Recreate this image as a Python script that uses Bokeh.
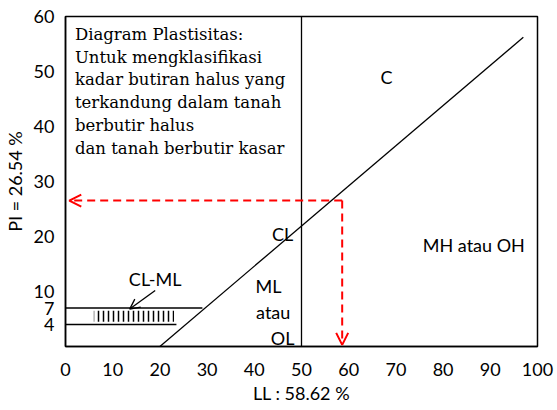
from bokeh.plotting import figure
from bokeh.models import Range1d, Arrow, OpenHead, FixedTicker, Label
from bokeh.embed import file_html
from bokeh.resources import INLINE

# ---- data ----
x_ticks = [0, 10, 20, 30, 40, 50, 60, 70, 80, 90, 100]
y_ticks = [4, 7, 10, 20, 30, 40, 50, 60]
LL = 58.62
PI = 26.54
a_line_ll = [20, 97]
a_line_pi = [0.73 * (v - 20) for v in a_line_ll]
ll_limit = 50
clml_upper = 7
clml_lower = 4
clml_upper_end = 29
clml_lower_end = 23.5
hatch_ll = [6, 23]

info_lines = ["Diagram Plastisitas:", "Untuk mengklasifikasi", "kadar butiran halus yang",
              "terkandung dalam tanah", "berbutir halus", "dan tanah berbutir kasar"]
zones = ["C", "CL", "ML", "atau", "OL", "MH atau OH", "CL-ML"]
zone_ll = [68, 46, 43, 44, 46, 86.5, 19]
zone_pi = [49, 20.5, 11, 6.3, 1.6, 18.5, 12.2]

SANS = "Lato"
SERIF = "DejaVu Serif"

p = figure(width=557, height=410, output_backend="svg", toolbar_location=None,
           x_range=Range1d(0, 100), y_range=Range1d(0, 60),
           min_border_left=63, min_border_right=20, min_border_top=16, min_border_bottom=64)
p.grid.visible = False
p.outline_line_color = "black"
p.outline_line_width = 1.5
p.background_fill_color = "white"

for ax in (p.xaxis[0], p.yaxis[0]):
    ax.axis_line_color = "black"
    ax.axis_line_width = 1.5
    ax.major_tick_line_color = None
    ax.minor_tick_line_color = None
    ax.major_label_text_font = SANS
    ax.major_label_text_font_size = "18px"
    ax.major_label_text_color = "black"
    ax.axis_label_text_font = SANS
    ax.axis_label_text_font_size = "18px"
    ax.axis_label_text_font_style = "normal"
    ax.axis_label_text_color = "black"

p.xaxis.ticker = FixedTicker(ticks=x_ticks)
p.yaxis.ticker = FixedTicker(ticks=y_ticks)
p.xaxis.major_label_standoff = 10
p.yaxis.major_label_standoff = 5
p.xaxis.axis_label = "LL : %.2f %%" % LL
p.yaxis.axis_label = "PI = %.2f %%" % PI
p.xaxis.axis_label_standoff = 3
p.yaxis.axis_label_standoff = 5

# A-line
p.line(a_line_ll, a_line_pi, line_color="black", line_width=1.3)
# LL = 50 line
p.line([ll_limit, ll_limit], [0, 60], line_color="black", line_width=1.3)
# CL-ML band
p.line([0, clml_upper_end], [clml_upper, clml_upper], line_color="black", line_width=1.3)
p.line([0, clml_lower_end], [clml_lower, clml_lower], line_color="black", line_width=1.3)
p.quad(left=hatch_ll[0], right=hatch_ll[1], bottom=clml_lower + 0.5, top=clml_upper - 0.5,
       fill_color=None, line_color=None, hatch_pattern="vertical_line",
       hatch_color="black", hatch_scale=5, hatch_weight=1.5)

# red dashed guide arrows
p.add_layout(Arrow(x_start=LL, y_start=PI, x_end=0.8, y_end=PI,
                   line_color="red", line_width=2, line_dash="8 5",
                   end=OpenHead(size=12, line_color="red", line_width=2)))
p.add_layout(Arrow(x_start=LL, y_start=PI, x_end=LL, y_end=0.3,
                   line_color="red", line_width=2, line_dash="8 5",
                   end=OpenHead(size=12, line_color="red", line_width=2)))

# CL-ML pointer
p.add_layout(Arrow(x_start=19, y_start=10.2, x_end=13.6, y_end=6.8,
                   line_color="black", line_width=1.3,
                   end=OpenHead(size=10, line_color="black", line_width=1.3)))

# zone labels
p.text(x=zone_ll, y=zone_pi, text=zones, text_font={"value": SANS},
       text_font_size="18px", text_align="center", text_baseline="middle", text_color="black")

# info text
p.add_layout(Label(x=2, y=58.5, text="\n".join(info_lines), text_font=SERIF,
                   text_font_size="16.5px", text_baseline="top", text_align="left",
                   text_line_height=1.2, text_color="black"))

open("out.html", "w").write(file_html(p, INLINE))
